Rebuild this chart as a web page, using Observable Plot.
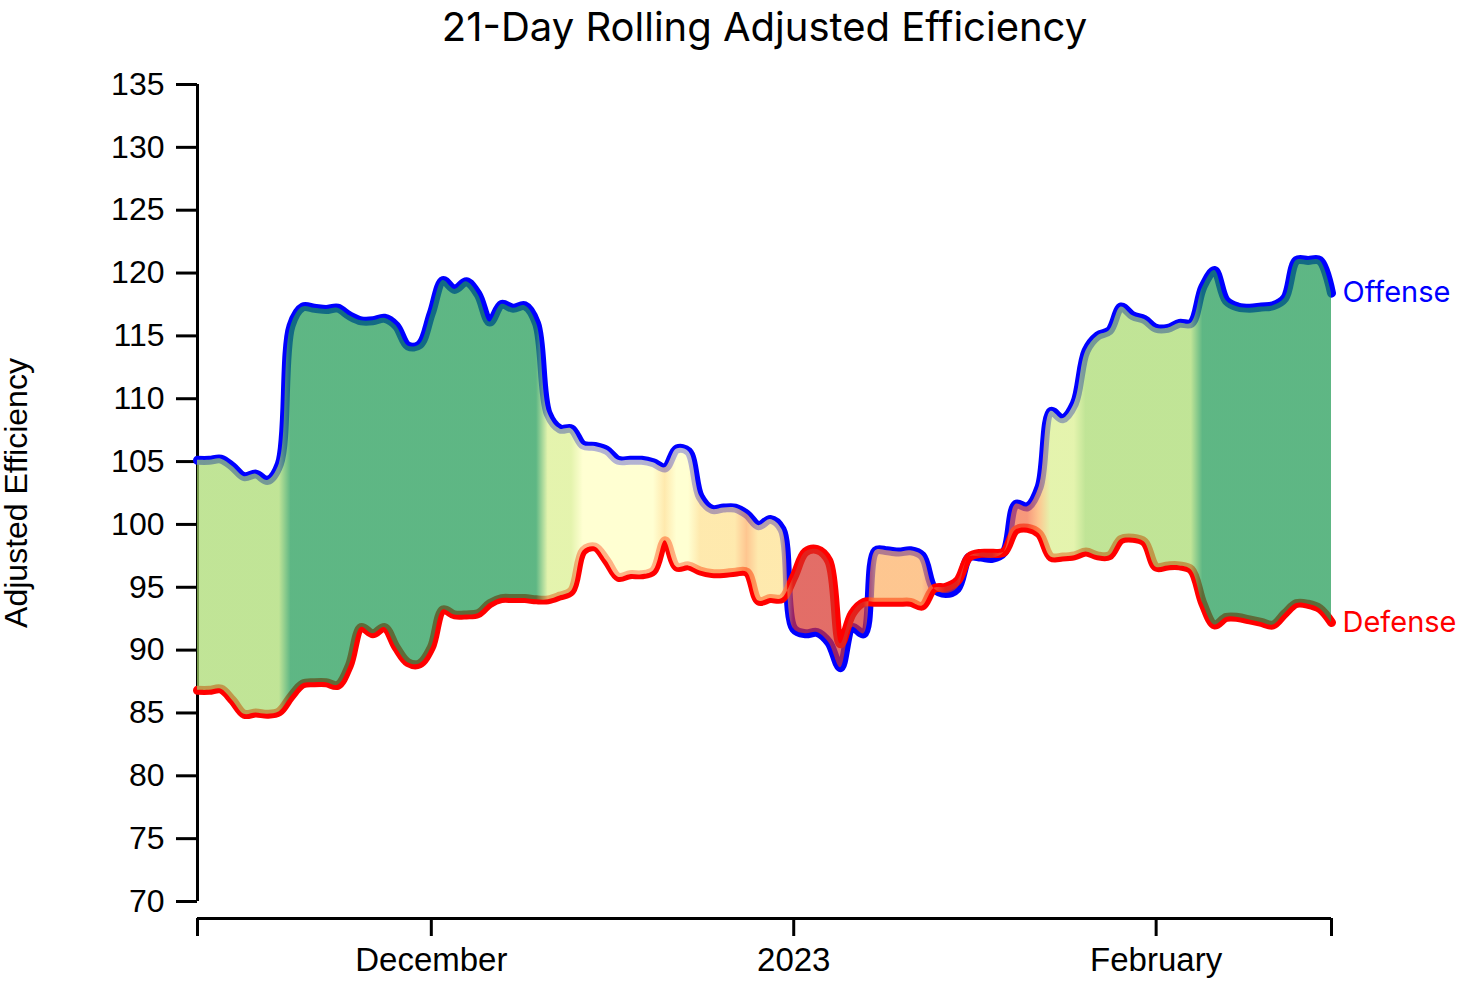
<!DOCTYPE html>
<html><head><meta charset="utf-8">
<script src="https://cdn.jsdelivr.net/npm/d3@7"></script>
<script src="https://cdn.jsdelivr.net/npm/@observablehq/plot@0.6"></script>
<style>body{margin:0;background:#fff}</style>
</head><body><div id="chart"></div>
<script>
const title = "21-Day Rolling Adjusted Efficiency";
const yLabel = "Adjusted Efficiency";
const startDay = new Date(2022, 10, 11);
const endDay = new Date(2023, 1, 16);
const dates = d3.timeDay.range(startDay, d3.timeDay.offset(endDay, 1));

const offense = [
  105.1, 105.1, 105.2, 104.6, 103.8, 104.0, 103.5, 104.8, 115.8, 117.3,
  117.2, 117.1, 117.2, 116.6, 116.2, 116.2, 116.4, 115.8, 114.2, 114.3,
  116.8, 119.4, 118.7, 119.3, 118.3, 116.1, 117.5, 117.2, 117.4, 116.0,
  108.8, 107.6, 107.6, 106.3, 106.2, 105.9, 105.1, 105.1, 105.1, 104.9,
  104.5, 106.0, 105.8, 102.2, 101.2, 101.3, 101.3, 100.8, 99.9, 100.4,
  99.6, 91.7, 91.3, 91.4, 90.6, 88.6, 91.8, 91.3, 97.9, 97.9,
  97.8, 97.9, 97.5, 94.9, 94.5, 94.9, 97.4, 97.4, 97.3, 97.8,
  101.6, 101.4, 103.0, 109.0, 108.4, 109.6, 113.8, 115.0, 115.4, 117.3,
  116.6, 116.3, 115.6, 115.6, 116.0, 116.0, 118.9, 120.2, 117.8, 117.3,
  117.2, 117.3, 117.4, 118.0, 121.0, 121.0, 121.0, 118.4
];
const defense = [
  86.8, 86.8, 86.9, 86.0, 84.9, 85.0, 84.9, 85.1, 86.3, 87.3,
  87.4, 87.4, 87.2, 88.8, 91.8, 91.3, 91.8, 90.2, 89.0, 88.9,
  90.2, 93.2, 92.8, 92.8, 92.9, 93.7, 94.1, 94.1, 94.1, 94.0,
  94.0, 94.3, 94.7, 97.9, 98.2, 97.1, 95.8, 96.0, 96.0, 96.3,
  98.7, 96.6, 96.7, 96.3, 96.1, 96.1, 96.2, 96.2, 93.9, 94.1,
  94.1, 95.8, 97.8, 98.0, 97.1, 90.5, 92.9, 93.8, 93.8, 93.8,
  93.8, 93.8, 93.5, 94.9, 95.0, 95.5, 97.4, 97.7, 97.7, 97.8,
  99.55, 99.7, 99.25, 97.4, 97.4, 97.5, 97.8, 97.5, 97.5, 98.8,
  98.9, 98.6, 96.6, 96.7, 96.7, 96.4, 93.7, 92.0, 92.6, 92.6,
  92.4, 92.2, 92.0, 92.9, 93.7, 93.65, 93.3, 92.2
];

const yTicks = [70, 75, 80, 85, 90, 95, 100, 105, 110, 115, 120, 125, 130, 135];
const xTickDates = [new Date(2022, 11, 1), new Date(2023, 0, 1), new Date(2023, 1, 1)];
const xTickLabels = ["December", "2023", "February"];
const netThresholds = [0, 2.5, 5, 7.5, 10, 15, 20];
const netColors = ["#d73027", "#f46d43", "#fdae61", "#fee08b", "#ffffbf", "#d9ef8b", "#a6d96a", "#1a9850"];
const seriesNames = ["Offense", "Defense"];
const seriesColors = ["#0000ff", "#ff0000"];

const rows = dates.map((date, i) => ({date, offense: offense[i], defense: defense[i], net: offense[i] - defense[i]}));
const netColor = d3.scaleThreshold(netThresholds, netColors);
const last = rows[rows.length - 1];
const curve = "catmull-rom";

const tickFmt = (d) => {
  const i = xTickDates.findIndex(t => +t === +d);
  return i >= 0 ? xTickLabels[i] : "";
};

const chart = Plot.plot({
  width: 1468,
  height: 985,
  marginTop: 84,
  marginLeft: 197,
  marginRight: 137,
  marginBottom: 67,
  style: {fontFamily: "'Liberation Sans', Arial, sans-serif", fontSize: "32px", color: "#000", background: "#fff", overflow: "visible"},
  x: {type: "time", domain: [startDay, endDay]},
  y: {domain: [70, 135], range: [901, 84]},
  marks: [
    Plot.axisY({ticks: yTicks, tickSize: 21, tickPadding: 12, strokeWidth: 3, fontSize: 32, label: null}),
    Plot.ruleX([{x: startDay, y1: 70, y2: 135}], {x: "x", y1: "y1", y2: "y2", strokeWidth: 3}),
    Plot.axisX({ticks: [startDay, ...xTickDates, endDay], tickFormat: tickFmt, tickSize: 18, tickPadding: 11, strokeWidth: 3, fontSize: 33, label: null}),
    Plot.ruleY([70], {dy: 17, strokeWidth: 3}),
    Plot.lineY(rows, {x: "date", y: "offense", stroke: seriesColors[0], strokeWidth: 9, curve}),
    Plot.lineY(rows, {x: "date", y: "defense", stroke: seriesColors[1], strokeWidth: 9, curve}),
    Plot.areaY(rows, {x: "date", y1: "offense", y2: "defense", fill: "url(#netGradient)", fillOpacity: 0.7, curve}),
    Plot.text([last], {x: "date", y: "offense", text: () => seriesNames[0], dx: 11, textAnchor: "start", fill: seriesColors[0], fontSize: 29, fontFamily: "Inter"}),
    Plot.text([last], {x: "date", y: "defense", text: () => seriesNames[1], dx: 11, textAnchor: "start", fill: seriesColors[1], fontSize: 29, fontFamily: "Inter"}),
    Plot.text([title], {frameAnchor: "top", dy: -44, lineAnchor: "bottom", textAnchor: "middle", fontSize: 40, fontFamily: "Inter", fill: "#000"}),
    Plot.text([yLabel], {frameAnchor: "left", rotate: -90, dx: -181, dy: -8.5, textAnchor: "middle", fontSize: 32, fill: "#000"})
  ]
});

// gradient along x, one stop per day, coloured by offense - defense
const xs = chart.scale("x");
const gx0 = xs.apply(startDay), gx1 = xs.apply(endDay);
const ns = "http://www.w3.org/2000/svg";
const defs = document.createElementNS(ns, "defs");
const grad = document.createElementNS(ns, "linearGradient");
grad.setAttribute("id", "netGradient");
grad.setAttribute("gradientUnits", "userSpaceOnUse");
grad.setAttribute("x1", gx0); grad.setAttribute("x2", gx1);
grad.setAttribute("y1", 0); grad.setAttribute("y2", 0);
rows.forEach(r => {
  const s = document.createElementNS(ns, "stop");
  s.setAttribute("offset", (xs.apply(r.date) - gx0) / (gx1 - gx0));
  s.setAttribute("stop-color", netColor(r.net));
  grad.appendChild(s);
});
defs.appendChild(grad);
chart.insertBefore(defs, chart.firstChild);
document.getElementById("chart").appendChild(chart);
</script>
</body></html>
